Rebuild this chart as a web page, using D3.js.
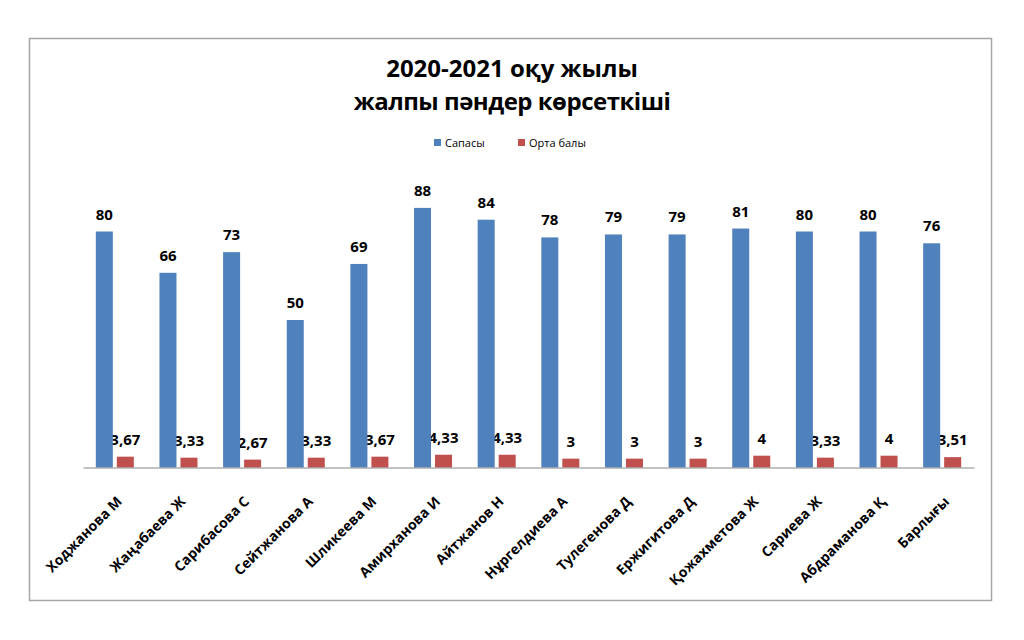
<!DOCTYPE html>
<html>
<head>
<meta charset="utf-8">
<script src="https://cdn.jsdelivr.net/npm/d3@7"></script>
<style>
  body{margin:0;background:#fff;}
  text{font-family:"Open Sans",sans-serif;fill:#000;}
</style>
</head>
<body>
<svg id="chart" width="1024" height="640"></svg>
<script>
// data ---------------------------------
var names=['Ходжанова М','Жаңабаева Ж','Сарибасова С','Сейтжанова А','Шликеева М','Амирханова И','Айтжанов Н',
  'Нұргелдиева А','Тулегенова Д','Ержигитова Д','Қожахметова Ж','Сариева Ж','Абдраманова Қ','Барлығы'];
var quality=[80,66,73,50,69,88,84,78,79,79,81,80,80,76];
var average=[3.67,3.33,2.67,3.33,3.67,4.33,4.33,3,3,3,4,3.33,4,3.51];
var seriesNames=['Сапасы','Орта балы'];
var colors=['#4f81bd','#c0504d'];
var titleLines=['2020-2021 оқу жылы','жалпы пәндер көрсеткіші'];

// dom --------------------------------
var svg=d3.select('#chart');
var locale=d3.formatLocale({decimal:',',thousands:' ',grouping:[3],currency:['','']});
var fmt=locale.format('~g');

// frame
svg.append('rect')
  .attr('x',29.5).attr('y',38.5).attr('width',962).attr('height',562)
  .attr('fill','#fff').attr('stroke','#a6a6a6').attr('stroke-width',1.5);

// title
svg.selectAll('.title').data(titleLines).enter().append('text')
  .attr('class','title')
  .attr('x',512).attr('y',(d,i)=>77+i*33)
  .attr('text-anchor','middle')
  .style('font-size','24px').style('font-weight','bold')
  .style('letter-spacing',(d,i)=>i==1?'-0.5px':'0px')
  .text(d=>d);

// legend
var legend=svg.append('g').attr('transform','translate(434,143)');
var legendX=[0,84];
seriesNames.forEach((s,i)=>{
  var g=legend.append('g').attr('transform',`translate(${legendX[i]},0)`);
  g.append('rect').attr('x',0).attr('y',-4).attr('width',7).attr('height',7).attr('fill',colors[i]);
  g.append('text').attr('x',11).attr('y',4).style('font-size','11px').text(s);
});

// scales
var x=d3.scaleBand().domain(names).range([83,974]);
var xs=d3.scaleBand().domain([0,1]).range([0,x.bandwidth()]).paddingInner(0.19).paddingOuter(0.61);
var y=d3.scaleLinear().domain([0,100]).range([467.5,172.5]);

var rows=names.map((n,i)=>({name:n,vals:[quality[i],average[i]]}));

// red labels are drawn under the blue bars (as in the original)
svg.append('g').selectAll('text').data(rows).enter().append('text')
  .attr('x',d=>x(d.name)+xs(1)+xs.bandwidth()/2)
  .attr('y',d=>y(d.vals[1])-12)
  .attr('text-anchor','middle')
  .style('font-size','15px').style('font-weight','bold')
  .text(d=>fmt(d.vals[1]));

// bars
[0,1].forEach(k=>{
  svg.append('g').selectAll('rect').data(rows).enter().append('rect')
    .attr('x',d=>x(d.name)+xs(k))
    .attr('y',d=>y(d.vals[k]))
    .attr('width',xs.bandwidth())
    .attr('height',d=>y(0)-y(d.vals[k]))
    .attr('fill',colors[k]);
});

// blue labels
svg.append('g').selectAll('text').data(rows).enter().append('text')
  .attr('x',d=>x(d.name)+xs(0)+xs.bandwidth()/2)
  .attr('y',d=>y(d.vals[0])-12)
  .attr('text-anchor','middle')
  .style('font-size','15px').style('font-weight','bold')
  .text(d=>fmt(d.vals[0]));

// x axis
var xAxis=svg.append('g').attr('transform',`translate(0,${y(0)})`)
  .call(d3.axisBottom(x).tickSize(0).tickPadding(0));
xAxis.select('.domain').attr('stroke','#868686').attr('stroke-width',1.2);
xAxis.selectAll('.tick text')
  .attr('text-anchor','end')
  .attr('dy',0).attr('y',0)
  .attr('transform','translate(8,35) rotate(-45)')
  .style('font-family','"Open Sans",sans-serif')
  .style('font-size','14px').style('font-weight','bold').attr('fill','#000');
</script>
</body>
</html>
